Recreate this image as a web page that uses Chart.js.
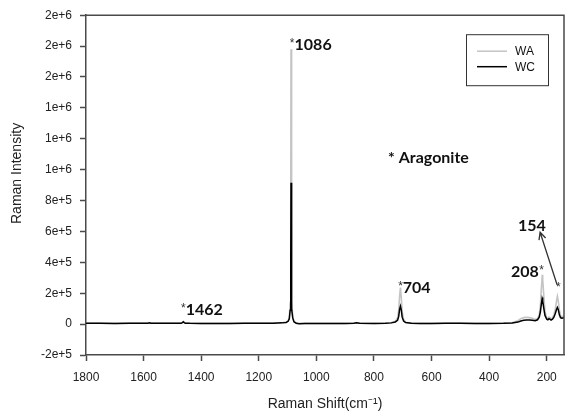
<!DOCTYPE html>
<html>
<head>
<meta charset="utf-8">
<script src="https://cdn.jsdelivr.net/npm/chart.js@4/dist/chart.umd.min.js"></script>
<style>
  html, body { margin: 0; padding: 0; background: #fff; }
  #wrap { width: 567px; height: 418px; }
</style>
</head>
<body>
<div id="wrap"><canvas id="c" width="567" height="418"></canvas></div>
<script>
// ---- Data ----
const ramanShift = [1800,1750,1700,1650,1600,1585,1580,1575,1550,1500,1480,1470,1465,1462,1459,1455,1440,1400,1350,1300,1250,1200,1150,1120,1105,1098,1094,1091,1089,1088,1087,1085,1082,1078,1070,1060,1040,1000,950,900,870,860,850,800,760,740,726,718,714,711,708,705,702,697,690,670,640,600,550,500,450,400,350,320,300,290,280,270,260,250,240,232,226,222,219,216,215,213,210,206,200,196,192,188,185,180,175,170,166,163,160,156,152,148,144,140];
const waIntensity = [6000,6000,5000,6000,6000,7000,9000,7000,6000,6000,6000,7000,11000,16000,11000,7000,6000,5000,5000,5000,6000,6000,7000,9000,13000,22000,45000,140000,650000,1780000,620000,150000,50000,20000,8000,4000,5000,5000,5000,5000,6000,9000,6000,5000,6000,9000,18000,40000,90000,180000,236000,170000,80000,30000,12000,6000,5000,5000,6000,6000,5000,5000,6000,9000,22000,35000,42000,44000,42000,38000,30000,35000,60000,120000,220000,300000,320000,290000,180000,80000,40000,35000,45000,40000,33000,40000,60000,100000,150000,180000,150000,90000,55000,45000,50000,55000];
const wcIntensity = [5000,5000,4000,5000,5000,6000,8000,6000,5000,5000,5000,6000,10000,15000,10000,6000,5000,4000,4000,4000,5000,5000,6000,8000,11000,18000,35000,90000,360000,915000,330000,100000,40000,15000,6000,3000,4000,4000,4000,4000,5000,8000,5000,4000,5000,8000,14000,25000,50000,95000,116000,90000,45000,20000,10000,5000,4000,4000,5000,5000,4000,4000,5000,7000,13000,20000,25000,27000,26000,25000,22000,28000,45000,80000,125000,165000,172000,150000,100000,55000,32000,28000,35000,30000,26000,32000,45000,70000,95000,108000,95000,60000,42000,38000,40000,42000];
const seriesNames = ['WA', 'WC'];
const xTicks = [1800,1600,1400,1200,1000,800,600,400,200];
const yTicks = [-200000,0,200000,400000,600000,800000,1000000,1200000,1400000,1600000,1800000,2000000];
// Annotation labels anchored in data coordinates
const peakLabels = [
  { star: '*', text: '1086', x: 1092, y: 1775000, starAfter: false },
  { star: '*', text: '1462', x: 1470, y: 57000, starAfter: false },
  { star: '*', text: '704',  x: 716,  y: 204000, starAfter: false },
  { star: '*', text: '208',  x: 324,  y: 306700, starAfter: true },
  { star: '',  text: '154',  x: 300,  y: 601750, starAfter: false },
  { star: '*', text: '',     x: 168,  y: 197700, starAfter: false }
];
const mineralLabel = { text: '* Aragonite', x: 751, y: 1044000 };
const arrowFrom = { x: 164, y: 255000 };
const arrowTo = { x: 223, y: 595000 };

const toPts = (ys) => ramanShift.map((x, i) => ({ x: x, y: ys[i] }));

const AXIS_COLOR = '#4a4a4a';
const FONT = '"Liberation Sans", Arial, sans-serif';
const BOLD = 'Lato, "Open Sans", sans-serif';

const overlay = {
  id: 'overlay',
  afterDatasetsDraw(chart) {
    const { ctx, chartArea: a, scales } = chart;
    const sx = scales.x, sy = scales.y;
    ctx.save();
    // frame (top & right)
    ctx.strokeStyle = AXIS_COLOR;
    ctx.lineWidth = 1.5;
    ctx.beginPath();
    ctx.moveTo(a.left, a.top);
    ctx.lineTo(a.right, a.top);
    ctx.lineTo(a.right, a.bottom);
    ctx.stroke();

    // legend box
    const lx = a.left + 380, ly = a.top + 19, lw = 82, lh = 51;
    ctx.lineWidth = 1;
    ctx.strokeStyle = '#333';
    ctx.strokeRect(lx + 0.5, ly + 0.5, lw, lh);
    const legendColors = ['#c4c4c4', '#000'];
    ctx.font = '12px ' + FONT;
    ctx.textBaseline = 'middle';
    ctx.textAlign = 'left';
    seriesNames.forEach((n, i) => {
      const yy = ly + 17 + i * 15.5;
      ctx.strokeStyle = legendColors[i];
      ctx.lineWidth = 1.5;
      ctx.beginPath();
      ctx.moveTo(lx + 11, yy);
      ctx.lineTo(lx + 41, yy);
      ctx.stroke();
      ctx.fillStyle = '#111';
      ctx.fillText(n, lx + 49, yy + 0.5);
    });

    // peak labels
    ctx.fillStyle = '#111';
    ctx.textBaseline = 'alphabetic';
    peakLabels.forEach(l => {
      let px = sx.getPixelForValue(l.x);
      const py = sy.getPixelForValue(l.y);
      if (!l.starAfter && l.star) {
        ctx.font = '12px ' + FONT;
        ctx.fillStyle = '#333';
        ctx.fillText(l.star, px, py - 3);
        px += ctx.measureText(l.star).width;
      }
      if (l.text) {
        ctx.font = 'bold 16px ' + BOLD;
        ctx.fillStyle = '#111';
        ctx.fillText(l.text, px, py);
        px += ctx.measureText(l.text).width + 0.5;
      }
      if (l.starAfter) {
        ctx.font = '12px ' + FONT;
        ctx.fillStyle = '#333';
        ctx.fillText(l.star, px, py - 3);
      }
    });

    // mineral label
    ctx.font = 'bold 16px ' + BOLD;
    ctx.fillStyle = '#111';
    ctx.fillText(mineralLabel.text, sx.getPixelForValue(mineralLabel.x), sy.getPixelForValue(mineralLabel.y));

    // arrow
    const x1 = sx.getPixelForValue(arrowFrom.x), y1 = sy.getPixelForValue(arrowFrom.y);
    const x2 = sx.getPixelForValue(arrowTo.x), y2 = sy.getPixelForValue(arrowTo.y);
    ctx.strokeStyle = '#333';
    ctx.lineWidth = 1.3;
    ctx.beginPath();
    ctx.moveTo(x1, y1);
    ctx.lineTo(x2, y2);
    const ang = Math.atan2(y2 - y1, x2 - x1);
    const hl = 8;
    ctx.moveTo(x2 - hl * Math.cos(ang - 0.45), y2 - hl * Math.sin(ang - 0.45));
    ctx.lineTo(x2, y2);
    ctx.lineTo(x2 - hl * Math.cos(ang + 0.45), y2 - hl * Math.sin(ang + 0.45));
    ctx.stroke();
    ctx.restore();
  }
};

new Chart(document.getElementById('c'), {
  type: 'line',
  data: {
    datasets: [
      { label: seriesNames[0], data: toPts(waIntensity), borderColor: '#c4c4c4', borderWidth: 1.6, pointRadius: 0, tension: 0, order: 2 },
      { label: seriesNames[1], data: toPts(wcIntensity), borderColor: '#000', borderWidth: 1.5, pointRadius: 0, tension: 0, order: 1 }
    ]
  },
  options: {
    responsive: false,
    animation: false,
    events: [],
    layout: { padding: { left: 0, top: 12, right: 3, bottom: 0 } },
    plugins: { legend: { display: false }, tooltip: { enabled: false } },
    scales: {
      x: {
        type: 'linear',
        reverse: true,
        min: 140,
        max: 1800,
        afterBuildTicks: (s) => { s.ticks = xTicks.map(v => ({ value: v })); },
        afterFit: (s) => { s.height = 63; },
        ticks: { color: '#222', font: { family: FONT, size: 12 }, padding: 9, maxRotation: 0, autoSkip: false,
                 callback: (v) => String(v) },
        grid: { drawOnChartArea: false, drawTicks: true, tickLength: 6, color: AXIS_COLOR, tickWidth: 1.5 },
        border: { display: true, color: AXIS_COLOR, width: 1.5 },
        title: { display: true, text: 'Raman Shift(cm⁻¹)', color: '#222', font: { family: FONT, size: 14 }, padding: { top: 0, bottom: 5 } }
      },
      y: {
        min: -200000,
        max: 2000000,
        afterBuildTicks: (s) => { s.ticks = yTicks.map(v => ({ value: v })); },
        afterFit: (s) => { s.width = 86; },
        ticks: { color: '#222', font: { family: FONT, size: 12 }, padding: 8, autoSkip: false,
                 callback: (v) => v === 0 ? '0' : Number(v).toExponential(0) },
        grid: { drawOnChartArea: false, drawTicks: true, tickLength: 6, color: AXIS_COLOR, tickWidth: 1.5 },
        border: { display: true, color: AXIS_COLOR, width: 1.5 },
        title: { display: true, text: '      Raman Intensity', color: '#222', font: { family: FONT, size: 14 }, padding: { top: 9, bottom: 0 } }
      }
    }
  },
  plugins: [overlay]
});
</script>
</body>
</html>
